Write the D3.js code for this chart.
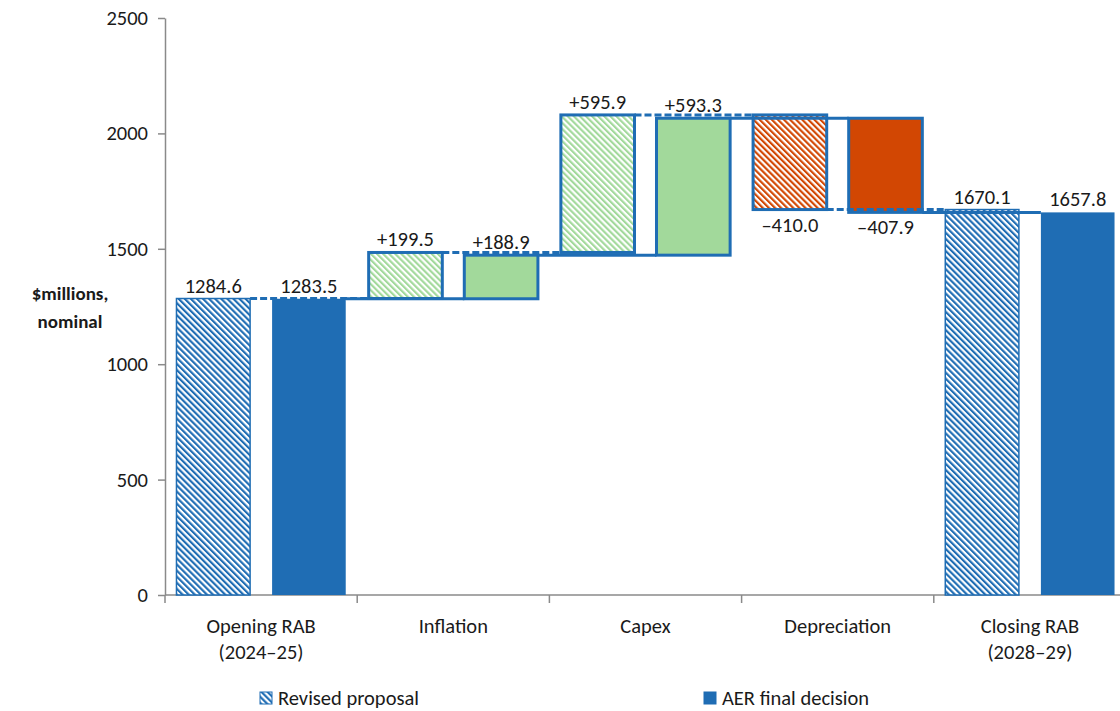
<!DOCTYPE html>
<html>
<head>
<meta charset="utf-8">
<script src="https://cdn.jsdelivr.net/npm/d3@7"></script>
<style>
  body { margin: 0; background: #fff; }
  text { font-family: Carlito, Calibri, "Liberation Sans", Arial, sans-serif; fill: #1a1a1a; }
</style>
</head>
<body>
<svg id="chart" width="1120" height="711"></svg>
<script>
// RAB roll-forward: revised proposal vs AER final decision ($m, nominal)
const categories = ["Opening RAB", "Inflation", "Capex", "Depreciation", "Closing RAB"];
const categorySubLabels = ["(2024–25)", "", "", "", "(2028–29)"];
const stepKinds = ["total", "delta", "delta", "delta", "total"];
const seriesNames = ["Revised proposal", "AER final decision"];
const revisedValues = [1284.6, 199.5, 595.9, -410.0, 1670.1];
const aerValues = [1283.5, 188.9, 593.3, -407.9, 1657.8];
const yTicks = [0, 500, 1000, 1500, 2000, 2500];

const BLUE = "#1f6db4";
const GREEN = "#a2d99b";
const ORANGE = "#d24703";
const AXIS = "#8a8a8a";
const FS = 20.5;

const svg = d3.select("#chart");
const W = 1120;
const margin = { left: 165 };

const y = d3.scaleLinear().domain([0, 2500]).range([595, 18]);
const xCat = d3.scaleBand().domain(categories).range([165, 1126]).padding(0);
const xSer = d3.scaleBand().domain(seriesNames).range([0, xCat.bandwidth()])
  .paddingInner(0.23).paddingOuter(0.12).align(0.5);

// Running totals for each series
function buildSteps(values, seriesIdx) {
  let running = 0;
  return values.map((v, i) => {
    let base, end;
    if (stepKinds[i] === "total") { base = 0; end = v; }
    else { base = running; end = running + v; }
    running = end;
    return { i, cat: categories[i], series: seriesNames[seriesIdx], seriesIdx, kind: stepKinds[i], value: v, base, end };
  });
}
const steps = [buildSteps(revisedValues, 0), buildSteps(aerValues, 1)];

// Hatch patterns for the revised proposal
const defs = svg.append("defs");
function hatch(id, color, bg) {
  const p = defs.append("pattern").attr("id", id)
    .attr("patternUnits", "userSpaceOnUse")
    .attr("width", 4.3).attr("height", 4.3)
    .attr("patternTransform", "rotate(-45)");
  p.append("rect").attr("width", 4.3).attr("height", 4.3).attr("fill", bg);
  p.append("rect").attr("width", 2.15).attr("height", 4.3).attr("fill", color);
}
hatch("hatch-blue", BLUE, "#fff");
hatch("hatch-green", GREEN, "#fff");
hatch("hatch-orange", ORANGE, "#fff");

function fillFor(d) {
  const col = d.kind === "total" ? "blue" : (d.value >= 0 ? "green" : "orange");
  const solid = { blue: BLUE, green: GREEN, orange: ORANGE }[col];
  return d.seriesIdx === 0 ? `url(#hatch-${col})` : solid;
}
const barX = d => xCat(d.cat) + xSer(d.series);
const bw = xSer.bandwidth();

// Axes
const yAxis = d3.axisLeft(y).tickValues(yTicks).tickFormat(d3.format("d"))
  .tickSize(7).tickSizeOuter(0).tickPadding(10);
const gy = svg.append("g").attr("transform", `translate(${margin.left},0)`).call(yAxis);
gy.select(".domain").attr("stroke", AXIS).attr("stroke-width", 1.5);
gy.selectAll(".tick line").attr("stroke", AXIS).attr("stroke-width", 1.5);
gy.selectAll(".tick text").attr("font-size", FS).style("font-family", null).attr("fill", "#1a1a1a");

svg.append("line").attr("x1", margin.left).attr("x2", W).attr("y1", y(0)).attr("y2", y(0))
  .attr("stroke", AXIS).attr("stroke-width", 1.5);
const boundaries = categories.map(c => xCat(c)).concat([xCat.range()[1]]);
svg.selectAll(".xtick").data(boundaries).join("line").attr("class", "xtick")
  .attr("x1", d => d).attr("x2", d => d).attr("y1", y(0)).attr("y2", y(0) + 8)
  .attr("stroke", AXIS).attr("stroke-width", 1.5);

// Category labels
const catG = svg.selectAll(".cat").data(categories).join("text").attr("class", "cat")
  .attr("text-anchor", "middle").attr("font-size", FS);
catG.append("tspan").attr("x", d => xCat(d) + xCat.bandwidth() / 2).attr("y", 633).text(d => d);
catG.append("tspan").attr("x", d => xCat(d) + xCat.bandwidth() / 2).attr("y", 659)
  .text((d, i) => categorySubLabels[i]);

// Y-axis title
const yt = svg.append("text").attr("text-anchor", "middle").attr("font-size", 19).attr("font-weight", "bold");
yt.append("tspan").attr("x", 70).attr("y", 300).text("$millions,");
yt.append("tspan").attr("x", 70).attr("y", 328).text("nominal");

// Bars
const allSteps = steps.flat();
svg.selectAll(".bar").data(allSteps).join("rect").attr("class", "bar")
  .attr("x", barX).attr("width", bw)
  .attr("y", d => y(Math.max(d.base, d.end)))
  .attr("height", d => Math.abs(y(d.base) - y(d.end)))
  .attr("fill", fillFor)
  .attr("stroke", d => d.kind === "delta" ? BLUE : (d.seriesIdx === 0 ? BLUE : "none"))
  .attr("stroke-width", d => d.kind === "delta" ? 3 : 1.5);

// Connectors: dashed for the revised proposal, solid for the AER decision
const connectors = [];
steps.forEach(s => {
  for (let i = 0; i < s.length - 1; i++) {
    connectors.push({ x1: barX(s[i]) + bw, x2: barX(s[i + 1]), v: s[i].end, dashed: s[i].seriesIdx === 0 });
  }
});
svg.selectAll(".conn").data(connectors).join("line").attr("class", "conn")
  .attr("x1", d => d.x1).attr("x2", d => d.x2)
  .attr("y1", d => y(d.v)).attr("y2", d => y(d.v))
  .attr("stroke", BLUE).attr("stroke-width", 3)
  .attr("stroke-dasharray", d => d.dashed ? "7,3" : null);

// Value labels
const fmt = d => {
  if (d.kind === "total") return d.value.toFixed(1);
  return (d.value >= 0 ? "+" : "–") + Math.abs(d.value).toFixed(1);
};
svg.selectAll(".val").data(allSteps).join("text").attr("class", "val")
  .attr("text-anchor", "middle").attr("font-size", FS)
  .attr("x", d => barX(d) + bw / 2)
  .attr("y", d => d.value >= 0 ? y(d.end) - 6 : y(d.end) + 22)
  .text(fmt);

// Legend
const legend = [
  { name: seriesNames[0], fill: "url(#hatch-blue)", x: 260 },
  { name: seriesNames[1], fill: BLUE, x: 704 }
];
const lg = svg.selectAll(".leg").data(legend).join("g").attr("class", "leg")
  .attr("transform", d => `translate(${d.x},692)`);
lg.append("rect").attr("width", 12).attr("height", 12).attr("fill", d => d.fill)
  .attr("stroke", BLUE).attr("stroke-width", 1);
lg.append("text").attr("x", 18).attr("y", 13).attr("font-size", FS).text(d => d.name);
</script>
</body>
</html>
